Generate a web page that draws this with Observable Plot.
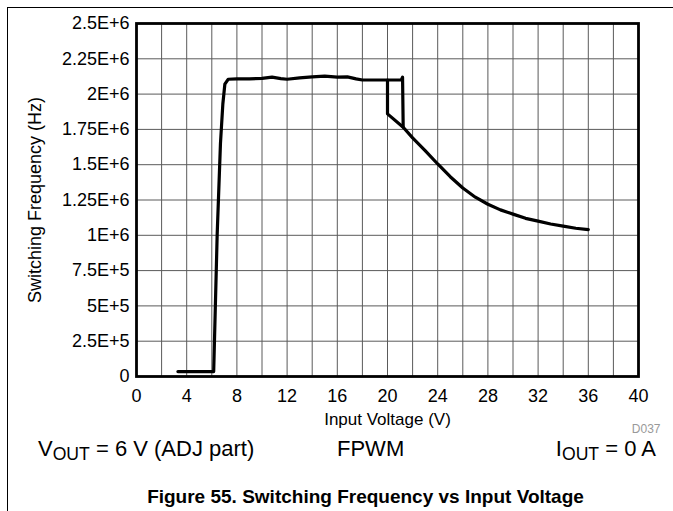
<!DOCTYPE html>
<html>
<head>
<meta charset="utf-8">
<script src="https://cdn.jsdelivr.net/npm/d3@7"></script>
<script src="https://cdn.jsdelivr.net/npm/@observablehq/plot@0.6"></script>
<style>
  html, body { margin: 0; padding: 0; background: #fff; }
  #page { position: relative; width: 673px; height: 511px; overflow: hidden; font-family: Arial, "Liberation Sans", Helvetica, sans-serif; color: #000; }
  #border { position: absolute; left: 7px; top: 7px; width: 700px; height: 600px; border-top: 1px solid #000; border-left: 1px solid #000; }
  #chart { position: absolute; left: 0; top: 0; }
  .cond { position: absolute; top: 438px; font-size: 22px; line-height: 22px; white-space: nowrap; }
  .cond .s { font-size: 0.8em; position: relative; top: 0.25em; }
  #title { position: absolute; left: 0; width: 731px; top: 487px; text-align: center; font-size: 19px; line-height: 19px; font-weight: bold; white-space: nowrap; }
</style>
</head>
<body>
<div id="page">
  <div id="border"></div>
  <div id="chart"></div>
  <div class="cond" style="left:38px">V<span class="s">OUT</span> = 6 V (ADJ part)</div>
  <div class="cond" style="left:337px">FPWM</div>
  <div class="cond" style="right:17px">I<span class="s">OUT</span> = 0 A</div>
  <div id="title">Figure 55. Switching Frequency vs Input Voltage</div>
</div>
<script>
// Sweep with increasing input voltage (V, Hz)
const voltsUp = [3.3, 6.15, 6.43, 6.69, 6.88, 7.04, 7.3, 8, 9, 10, 10.8, 11.5, 12, 13, 14, 15, 16, 16.8, 17.5, 18, 19, 20, 20.5, 21.1, 21.2, 21.25,
                 22, 23, 24, 25, 26, 27, 28, 29, 30, 31, 32, 33, 34, 35, 36];
const freqUp  = [35000, 35000, 1.01e6, 1.65e6, 1.93e6, 2.07e6, 2.105e6, 2.108e6, 2.108e6, 2.112e6, 2.12e6, 2.11e6, 2.105e6, 2.115e6, 2.122e6, 2.127e6, 2.12e6, 2.122e6, 2.108e6, 2.1e6, 2.1e6, 2.1e6, 2.1e6, 2.1e6, 2.12e6, 1.765e6,
                 1.69e6, 1.6e6, 1.505e6, 1.415e6, 1.335e6, 1.27e6, 1.22e6, 1.18e6, 1.15e6, 1.12e6, 1.1e6, 1.08e6, 1.065e6, 1.05e6, 1.04e6];
// Branch seen with decreasing input voltage (hysteresis)
const voltsDown = [20, 20, 21.25];
const freqDown  = [2.1e6, 1.86e6, 1.765e6];

const xTicks = [0, 4, 8, 12, 16, 20, 24, 28, 32, 36, 40];
const xGrid = d3.range(0, 42, 2);
const yTicks = [0, 0.25e6, 0.5e6, 0.75e6, 1e6, 1.25e6, 1.5e6, 1.75e6, 2e6, 2.25e6, 2.5e6];
const yTickLabels = ["0", "2.5E+5", "5E+5", "7.5E+5", "1E+6", "1.25E+6", "1.5E+6", "1.75E+6", "2E+6", "2.25E+6", "2.5E+6"];
const xTitle = "Input Voltage (V)";
const yTitle = "Switching Frequency (Hz)";
const figCode = "D037";

const up = voltsUp.map((v, i) => ({v, f: freqUp[i]}));
const down = voltsDown.map((v, i) => ({v, f: freqDown[i]}));
const yLabelMap = new Map(yTicks.map((t, i) => [t, yTickLabels[i]]));

const chart = Plot.plot({
  width: 673,
  height: 440,
  marginLeft: 136,
  marginRight: 35,
  marginTop: 23,
  marginBottom: 64,
  style: {fontFamily: "Arial, 'Liberation Sans', Helvetica, sans-serif", fontSize: "18px", color: "#000", background: "transparent", overflow: "visible"},
  x: {domain: [0, 40]},
  y: {domain: [0, 2.5e6]},
  marks: [
    Plot.gridX(xGrid, {stroke: "#5a5a5a", strokeOpacity: 1, strokeWidth: 1}),
    Plot.gridY(yTicks, {stroke: "#5a5a5a", strokeOpacity: 1, strokeWidth: 1}),
    Plot.axisX(xTicks, {tickSize: 0, tickPadding: 13, label: null, fontSize: 18}),
    Plot.axisY(yTicks, {tickSize: 0, tickPadding: 7, label: null, fontSize: 18, tickFormat: d => yLabelMap.get(d)}),
    Plot.line(up, {x: "v", y: "f", stroke: "#000", strokeWidth: 3.2, strokeLinejoin: "round"}),
    Plot.line(down, {x: "v", y: "f", stroke: "#000", strokeWidth: 3.2, strokeLinejoin: "round"}),
    Plot.frame({stroke: "#000", strokeWidth: 2.8}),
    Plot.text([xTitle], {frameAnchor: "bottom", dy: 43, lineAnchor: "middle", textAnchor: "middle", fontSize: 17}),
    Plot.text([yTitle], {frameAnchor: "left", dx: -101, rotate: -90, textAnchor: "middle", lineAnchor: "middle", fontSize: 18}),
    Plot.text([figCode], {frameAnchor: "bottom-right", dx: 22, dy: 53, textAnchor: "end", lineAnchor: "middle", fontSize: 12, fill: "#999"})
  ]
});
document.getElementById("chart").appendChild(chart);
</script>
</body>
</html>
